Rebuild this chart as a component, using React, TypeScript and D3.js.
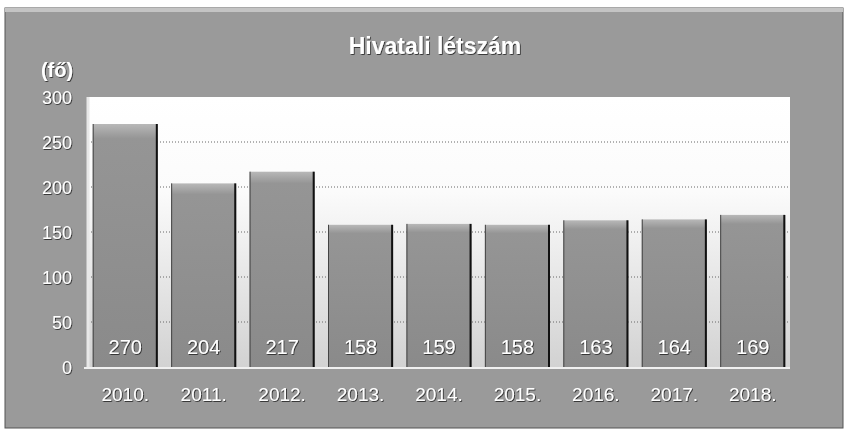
import React from "react";
import * as d3 from "d3";

const categories = ["2010.", "2011.", "2012.", "2013.", "2014.", "2015.", "2016.", "2017.", "2018."];
const values = [270, 204, 217, 158, 159, 158, 163, 164, 169];
const yTicks = [0, 50, 100, 150, 200, 250, 300];
const title = "Hivatali létszám";
const unitLabel = "(fő)";

const W = 846;
const H = 431;
const plot = { left: 88, right: 790, top: 97, bottom: 367 };
const font = "'Liberation Sans', Arial, sans-serif";

export default function App() {
  const x = d3.scaleBand<string>().domain(categories).range([plot.left, plot.right]).paddingInner(0.17).paddingOuter(0.06);
  const y = d3.scaleLinear().domain([0, 300]).range([plot.bottom, plot.top]);
  const bw = x.bandwidth();
  return (
    <svg width={W} height={H} style={{ position: "absolute", left: 0, top: 0 }}>
      <defs>
        <linearGradient id="wall" x1="0" y1="0" x2="0" y2="1">
          <stop offset="0" stopColor="#ffffff" />
          <stop offset="0.35" stopColor="#fbfbfb" />
          <stop offset="1" stopColor="#d2d2d2" />
        </linearGradient>
        <linearGradient id="bar" x1="0" y1="0" x2="0" y2="1">
          <stop offset="0" stopColor="#b8b8b8" />
          <stop offset="0.06" stopColor="#959595" />
          <stop offset="1" stopColor="#8a8a8a" />
        </linearGradient>
        <filter id="sh" x="-10%" y="-10%" width="120%" height="120%">
          <feDropShadow dx="0.8" dy="0.8" stdDeviation="0.5" floodColor="#222" floodOpacity="1" />
        </filter>
      </defs>
      <rect x={0} y={0} width={W} height={H} fill="#ffffff" />
      <rect x={5} y={8} width={838} height={420} fill="#9a9a9a" stroke="#555" strokeWidth={1} />
      <rect x={5} y={8} width={838} height={4} fill="#c4c4c4" />
      <rect x={plot.left} y={plot.top} width={plot.right - plot.left} height={plot.bottom - plot.top} fill="url(#wall)" />
      {yTicks.filter((t) => t > 0 && t < 300).map((t) => (
        <line key={t} x1={plot.left} x2={plot.right} y1={y(t)} y2={y(t)} stroke="#666" strokeWidth={1} strokeDasharray="1,2" />
      ))}
      <line x1={plot.left} x2={plot.left} y1={plot.top} y2={plot.bottom} stroke="#e8e8e8" strokeWidth={3} />
      {values.map((v, i) => {
        const bx = x(categories[i])!;
        const by = y(v);
        const bh = plot.bottom - by;
        return (
          <g key={i}>
            <rect x={bx} y={by} width={bw} height={bh} fill="url(#bar)" />
            <line x1={bx + 0.5} x2={bx + 0.5} y1={by} y2={plot.bottom} stroke="#444" strokeWidth={1} />
            <line x1={bx + bw - 1} x2={bx + bw - 1} y1={by} y2={plot.bottom} stroke="#111" strokeWidth={2} />
            <text x={bx + bw / 2} y={plot.bottom - 13} textAnchor="middle" fontFamily={font} fontSize={20} fill="#fff" filter="url(#sh)">
              {v}
            </text>
          </g>
        );
      })}
      <line x1={plot.left - 4} x2={plot.right} y1={plot.bottom + 1} y2={plot.bottom + 1} stroke="#f0f0f0" strokeWidth={2} />
      {yTicks.map((t) => (
        <text key={t} x={72} y={y(t) + 6.5} textAnchor="end" fontFamily={font} fontSize={18} fill="#fff" filter="url(#sh)">
          {t}
        </text>
      ))}
      <text x={57} y={77} textAnchor="middle" fontFamily={font} fontSize={20} fontWeight="bold" fill="#fff" filter="url(#sh)">
        {unitLabel}
      </text>
      {categories.map((c) => (
        <text key={c} x={x(c)! + bw / 2} y={401} textAnchor="middle" fontFamily={font} fontSize={19} fill="#fff" filter="url(#sh)">
          {c}
        </text>
      ))}
      <text x={435} y={54} textAnchor="middle" fontFamily={font} fontSize={23} fontWeight="bold" fill="#fff" filter="url(#sh)">
        {title}
      </text>
    </svg>
  );
}
